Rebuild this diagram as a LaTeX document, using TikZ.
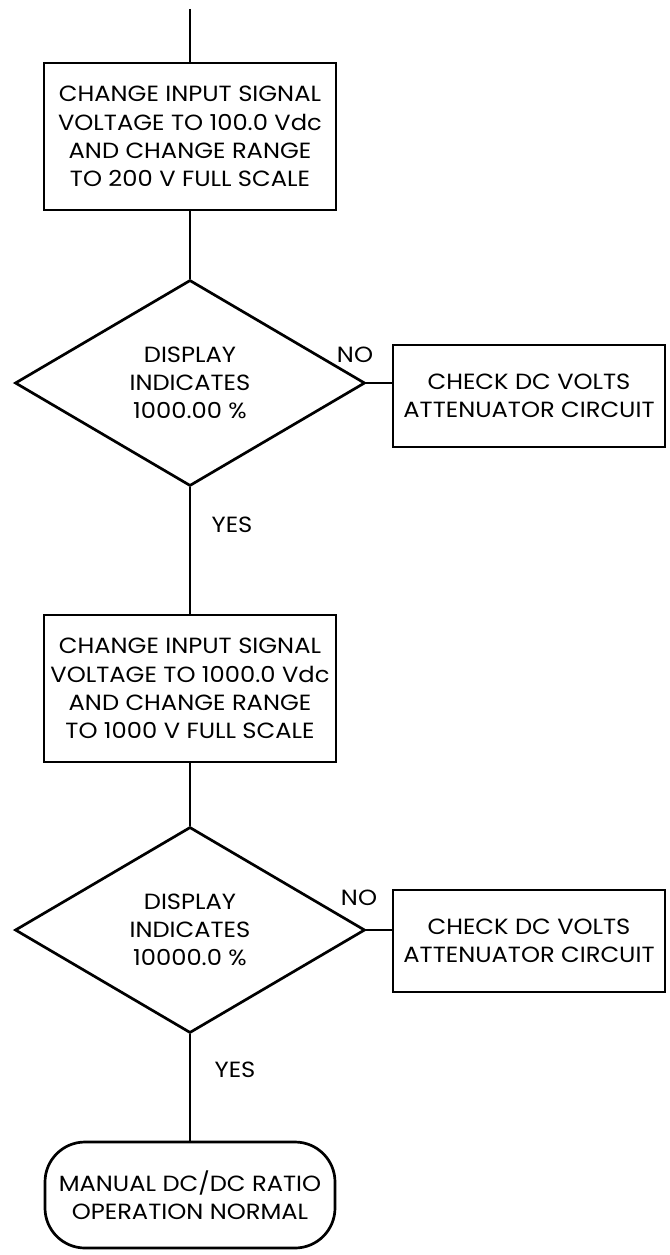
\documentclass[tikz,border=0pt]{standalone}
\usepackage{fontspec}
\setmainfont[FakeStretch=1.1]{Poppins}
\usetikzlibrary{shapes.geometric}

\begin{document}
\begin{tikzpicture}[
    x=1pt, y=-1pt,
    every node/.style={
        font=\fontsize{22}{28.3}\selectfont,
        align=center,
        inner sep=0pt,
    },
    procbox/.style={
        draw=black,
        line width=2.7pt,
        minimum width=292pt,
        minimum height=147pt,
    },
    decision/.style={
        diamond,
        draw=black,
        line width=2.7pt,
        shape aspect=1.7,
        minimum width=350pt,
        minimum height=206pt,
    },
    checkbox/.style={
        draw=black,
        line width=2.7pt,
        minimum width=272pt,
        minimum height=102pt,
    },
    termbox/.style={
        draw=black,
        line width=2.7pt,
        rounded corners=40pt,
        minimum width=290pt,
        minimum height=106pt,
    },
    flowline/.style={
        line width=2.7pt,
        color=black,
    },
]
\useasboundingbox (0,0) rectangle (669,1255);

\coordinate (entry) at (190,9);

\node[procbox] (chg1) at (190,136.5) {%
    CHANGE INPUT SIGNAL\\
    VOLTAGE TO 100.0 Vdc\\
    AND CHANGE RANGE\\
    TO 200 V FULL SCALE};

\node[decision] (disp1) at (190,383) {%
    DISPLAY\\
    INDICATES\\
    1000.00 \%};

\node[checkbox] (chk1) at (529,396) {%
    CHECK DC VOLTS\\
    ATTENUATOR CIRCUIT};

\node[procbox] (chg2) at (190,688.5) {%
    CHANGE INPUT SIGNAL\\
    VOLTAGE TO 1000.0 Vdc\\
    AND CHANGE RANGE\\
    TO 1000 V FULL SCALE};

\node[decision] (disp2) at (190,930) {%
    DISPLAY\\
    INDICATES\\
    10000.0 \%};

\node[checkbox] (chk2) at (529,941) {%
    CHECK DC VOLTS\\
    ATTENUATOR CIRCUIT};

\node[termbox] (done) at (190,1195) {%
    MANUAL DC/DC RATIO\\
    OPERATION NORMAL};

\node (no1) at (355,355) {NO};
\node (yes1) at (232,525) {YES};
\node (no2) at (359,898) {NO};
\node (yes2) at (235,1070) {YES};

\draw[flowline] (entry) -- (chg1);
\draw[flowline] (chg1) -- (disp1);
\draw[flowline] (disp1.east) -- (disp1.east -| chk1.west);
\draw[flowline] (disp1) -- (chg2);
\draw[flowline] (chg2) -- (disp2);
\draw[flowline] (disp2.east) -- (disp2.east -| chk2.west);
\draw[flowline] (disp2) -- (done);
\end{tikzpicture}
\end{document}
